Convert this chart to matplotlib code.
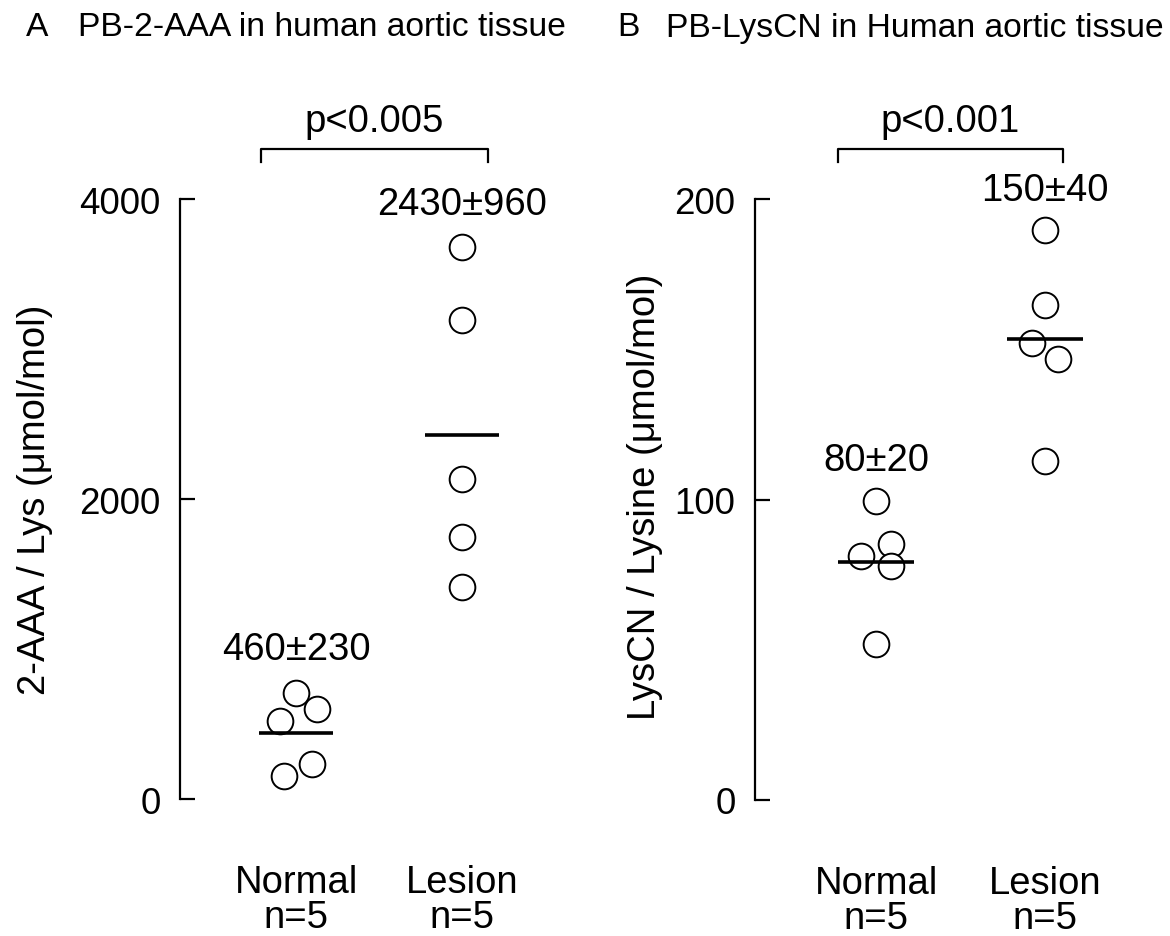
import matplotlib
matplotlib.use("Agg")
import matplotlib.pyplot as plt

plt.rcParams['font.family'] = ['Liberation Sans', 'DejaVu Sans']

# data
groups = ["Normal\nn=5", "Lesion\nn=5"]

aaa_normal = [708, 600, 517, 236, 156]
aaa_lesion = [3680, 3195, 2133, 1744, 1411]
aaa_means = [440, 2430]
aaa_labels = ["460±230", "2430±960"]
aaa_p = "p<0.005"

lys_normal = [99.6, 85.2, 81.1, 77.9, 52.0]
lys_lesion = [189.8, 164.8, 152.0, 146.8, 112.8]
lys_means = [79.2, 153.3]
lys_labels = ["80±20", "150±40"]
lys_p = "p<0.001"

# horizontal offsets so overlapping circles can be told apart
jit_aaa_n = [0, 0.127, -0.096, 0.096, -0.072]
jit_aaa_l = [0, 0, 0, 0, 0]
jit_lys_n = [0, 0.089, -0.089, 0.089, 0]
jit_lys_l = [0, 0, -0.077, 0.077, 0]

W, H = 1170, 937
fig = plt.figure(figsize=(W / 100, H / 100), dpi=100)
FS = 27.5


def px_axes(left, bottom, right, top):
    return fig.add_axes([left / W, 1 - bottom / H, (right - left) / W, (bottom - top) / H])


def panel(ax, normal, lesion, jn, jl, means, labels, ymax, ticks, p, lab_y, br_y, br_x):
    for vals, jit, xc in [(normal, jn, 1), (lesion, jl, 2)]:
        ax.plot([xc + j for j in jit], vals, 'o', ms=18.5, mfc='white', mec='black', mew=1.4,
                ls='none', clip_on=False, zorder=3)
    for xc, m in zip([1, 2], means):
        ax.plot([xc - 0.225, xc + 0.225], [m, m], color='black', lw=2.6, solid_capstyle='butt', zorder=4)
    for xc, t, ly in zip([1, 2], labels, lab_y):
        ax.text(xc, ly, t, ha='center', va='center', fontsize=FS)
    # significance bracket
    y0, y1 = br_y
    x0, x1 = br_x
    ax.plot([x0, x0, x1, x1], [y1, y0, y0, y1], color='black', lw=1.6, clip_on=False)
    ax.text((x0 + x1) / 2, y0 + (y0 - y1) * 2.2, p, ha='center', va='center', fontsize=FS)

    ax.set_ylim(0, ymax)
    ax.set_yticks(ticks)
    ax.set_xticks([1, 2])
    ax.set_xticklabels(groups, fontsize=FS, linespacing=0.95)
    ax.tick_params(axis='x', length=0, pad=47)
    ax.tick_params(axis='y', direction='in', length=11, width=1.6, labelsize=26.5, pad=14)
    for s in ['top', 'right', 'bottom']:
        ax.spines[s].set_visible(False)
    ax.spines['left'].set_linewidth(1.6)
    ax.patch.set_alpha(0)


# panel A: axis at x=180, Normal at 296, Lesion at 462
axA = px_axes(180, 800, 570, 200)
axA.set_xlim(1 - 116 / 166, 1 + 274 / 166)
panel(axA, aaa_normal, aaa_lesion, jit_aaa_n, jit_aaa_l, aaa_means, aaa_labels,
      4000, [0, 2000, 4000], aaa_p, [1000, 3967], (4333, 4247),
      (1 - 35 / 166, 1 + 192 / 166))

# panel B: axis at x=755, Normal at 876, Lesion at 1045
axB = px_axes(755, 801, 1160, 200)
axB.set_xlim(1 - 121 / 169, 1 + 284 / 169)
panel(axB, lys_normal, lys_lesion, jit_lys_n, jit_lys_l, lys_means, lys_labels,
      200, [0, 100, 200], lys_p, [113, 203], (216.6, 212.3),
      (1 - 38 / 169, 1 + 187 / 169))

for xl, xt, letter, title in [(26, 78, "A", "PB-2-AAA in human aortic tissue"),
                              (617, 666, "B", "PB-LysCN in Human aortic tissue")]:
    fig.text(xl / W, 1 - 28 / H, letter, fontsize=24.2, va='center')
    fig.text(xt / W, 1 - 28 / H, title, fontsize=24.2, va='center')
fig.text(35 / W, 1 - 500 / H, "2-AAA / Lys (μmol/mol)", rotation=90, fontsize=FS,
         ha='center', va='center')
fig.text(645 / W, 1 - 497 / H, "LysCN / Lysine (μmol/mol)", rotation=90, fontsize=FS,
         ha='center', va='center')

fig.savefig("out.png", dpi=100, facecolor='white')
